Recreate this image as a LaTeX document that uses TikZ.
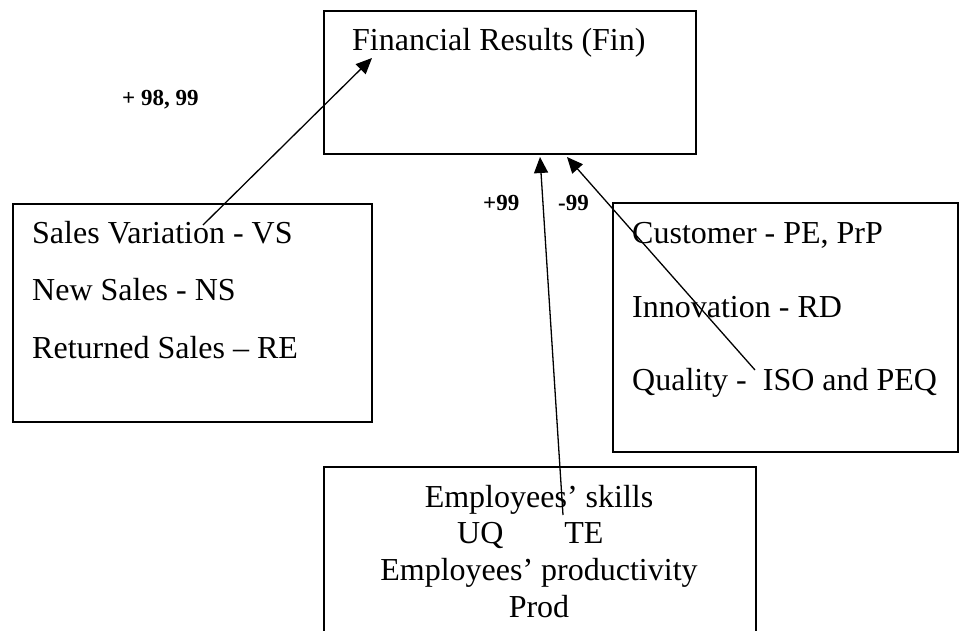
\documentclass[tikz,border=0pt]{standalone}
\usepackage{fontspec}
\setmainfont{Liberation Serif}
\usetikzlibrary{arrows.meta}
\begin{document}
\begin{tikzpicture}[x=1pt,y=-1pt,
  box/.style={draw,line width=1.6pt,inner sep=0,anchor=north west},
  txt/.style={inner sep=0,anchor=base west,font=\fontsize{32}{38}\selectfont},
  lbl/.style={inner sep=0,anchor=base west,font=\fontsize{23}{27}\selectfont\bfseries},
  arr/.style={line width=1.3pt,-{Triangle[length=16pt,width=14pt]}}]
\useasboundingbox (0,0) rectangle (960,630);
\clip (0,0) rectangle (960,630);
% boxes
\node[box,minimum width=372pt,minimum height=143pt] (fin) at (323,10) {};
\node[box,minimum width=359pt,minimum height=218pt] (sales) at (12,203) {};
\node[box,minimum width=345pt,minimum height=249pt] (cust) at (612,202) {};
\node[box,minimum width=432pt,minimum height=200pt] (empl) at (323,466) {};
% texts
\node[txt] (fintxt) at (352,50) {Financial Results (Fin)};
\node[txt] (vs) at (32,243) {Sales Variation - VS};
\node[txt] (ns) at (32,300) {New Sales - NS};
\node[txt] (re) at (32,358) {Returned Sales – RE};
\node[txt] (pe) at (632,243) {Customer - PE, PrP};
\node[txt] (rd) at (632,317) {Innovation - RD};
\node[txt] (iso) at (632,390) {Quality - \ ISO and PEQ};
\node[txt,anchor=base] (skills) at (539,507) {Employees’ skills};
\node[txt] (uqte) at (457,543) {UQ\hspace{61pt}TE};
\node[txt,anchor=base] (prodv) at (539,580) {Employees’ productivity};
\node[txt,anchor=base] (prod) at (539,617) {Prod};
% arrows
\coordinate (vsEnd) at (203,225);
\coordinate (finA) at (372,58);
\coordinate (emplEnd) at (563,515);
\coordinate (finB) at (540,157);
\coordinate (isoEnd) at (755,370);
\coordinate (finC) at (567,157);
\draw[arr] (vsEnd) -- (finA);
\draw[arr] (emplEnd) -- (finB);
\draw[arr] (isoEnd) -- (finC);
\node[lbl] (l1) at (122,105) {+ 98, 99};
\node[lbl] (l2) at (483,210) {+99};
\node[lbl] (l3) at (558,210) {-99};
\end{tikzpicture}
\end{document}
